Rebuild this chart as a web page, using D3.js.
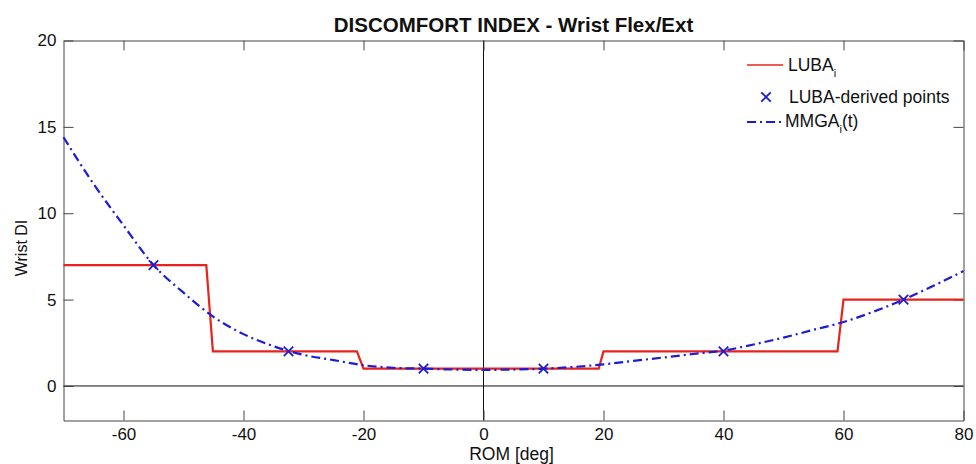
<!DOCTYPE html>
<html>
<head>
<meta charset="utf-8">
<script src="https://cdn.jsdelivr.net/npm/d3@7"></script>
<style>
  body { margin: 0; background: #fff; }
  text { font-family: "Liberation Sans", Arial, sans-serif; fill: #111; }
</style>
</head>
<body>
<svg width="976" height="464"></svg>
<script>
// ticks
const xTickValues = [-60, -40, -20, 0, 20, 40, 60, 80];
const yTickValues = [0, 5, 10, 15, 20];

// LUBA step function
const lubaX = [-70, -46.2, -45.1, -21.1, -20, 19.2, 20, 59, 60, 80];
const lubaY = [7, 7, 2, 2, 1, 1, 2, 2, 5, 5];

// LUBA-derived points
const pointX = [-55, -32.5, -10, 10, 40, 70];
const pointY = [7, 2, 1, 1, 2, 5];

// MMGA fitted curve
const mmgaX = [-70, -65, -60, -55, -50, -45, -40, -35, -30, -25, -20, -15, -10, -5, 0, 5, 10, 15, 20, 25, 30, 35, 40, 45, 50, 55, 60, 65, 70, 75, 80];
const mmgaY = [14.4, 11.7, 9.3, 7.0, 5.4, 4.0, 3.0, 2.3, 1.8, 1.5, 1.2, 1.05, 1.0, 0.95, 0.93, 0.95, 1.0, 1.1, 1.25, 1.45, 1.65, 1.85, 2.05, 2.4, 2.8, 3.25, 3.7, 4.3, 5.0, 5.8, 6.65];

const svg = d3.select("svg");
const x = d3.scaleLinear().domain([-70, 80]).range([63.5, 963.5]);
const y = d3.scaleLinear().domain([-2, 20]).range([420.5, 40.5]);

const axisColor = "#444";
const fmt = d => String(d); // plain hyphen minus like the original

// zero lines
svg.append("line")
  .attr("x1", x(-70)).attr("x2", x(80))
  .attr("y1", y(0)).attr("y2", y(0))
  .attr("stroke", "#111").attr("stroke-width", 1);
svg.append("line")
  .attr("x1", x(0)).attr("x2", x(0))
  .attr("y1", y(-2)).attr("y2", y(20))
  .attr("stroke", "#111").attr("stroke-width", 1);

// axes, ticks inward on all four sides
function styleAxis(g) {
  g.select(".domain").attr("stroke", axisColor);
  g.selectAll(".tick line").attr("stroke", axisColor);
  g.selectAll(".tick text").attr("fill", "#111").style("font-size", "17px")
    .style("font-family", '"Liberation Sans", Arial, sans-serif');
}
svg.append("g")
  .attr("transform", `translate(0,${y(-2)})`)
  .call(d3.axisBottom(x).tickValues(xTickValues).tickFormat(fmt).tickSizeInner(-10).tickSizeOuter(0).tickPadding(7))
  .call(styleAxis);
svg.append("g")
  .attr("transform", `translate(0,${y(20)})`)
  .call(d3.axisTop(x).tickValues(xTickValues).tickSizeInner(-10).tickSizeOuter(0).tickFormat(""))
  .call(styleAxis);
svg.append("g")
  .attr("transform", `translate(${x(-70)},0)`)
  .call(d3.axisLeft(y).tickValues(yTickValues).tickFormat(fmt).tickSizeInner(-10).tickSizeOuter(0).tickPadding(7))
  .call(styleAxis);
svg.append("g")
  .attr("transform", `translate(${x(80)},0)`)
  .call(d3.axisRight(y).tickValues(yTickValues).tickSizeInner(-10).tickSizeOuter(0).tickFormat(""))
  .call(styleAxis);

// LUBA line
const lubaData = lubaX.map((d, i) => [d, lubaY[i]]);
svg.append("path")
  .datum(lubaData)
  .attr("fill", "none")
  .attr("stroke", "#e8231c")
  .attr("stroke-width", 2.2)
  .attr("d", d3.line().x(d => x(d[0])).y(d => y(d[1])));

// MMGA curve
const mmgaData = mmgaX.map((d, i) => [d, mmgaY[i]]);
svg.append("path")
  .datum(mmgaData)
  .attr("fill", "none")
  .attr("stroke", "#1c1cd6")
  .attr("stroke-width", 2.2)
  .attr("stroke-dasharray", "9,4,2,4")
  .attr("d", d3.line().curve(d3.curveMonotoneX).x(d => x(d[0])).y(d => y(d[1])));

// x markers
const cross = d3.symbol().type(d3.symbolX).size(60);
svg.append("g").selectAll("path")
  .data(pointX.map((d, i) => [d, pointY[i]]))
  .join("path")
  .attr("transform", d => `translate(${x(d[0])},${y(d[1])})`)
  .attr("d", cross)
  .attr("fill", "none")
  .attr("stroke", "#1c1cd6")
  .attr("stroke-width", 1.8);

// title and labels
svg.append("text")
  .attr("x", (x(-70) + x(80)) / 2).attr("y", 32)
  .attr("text-anchor", "middle")
  .style("font-size", "20.5px").style("font-weight", "bold")
  .text("DISCOMFORT INDEX - Wrist Flex/Ext");
svg.append("text")
  .attr("x", (x(-70) + x(80)) / 2 - 2).attr("y", 460)
  .attr("text-anchor", "middle")
  .style("font-size", "17.5px")
  .text("ROM [deg]");
svg.append("text")
  .attr("transform", `translate(27,248) rotate(-90)`)
  .attr("text-anchor", "middle")
  .style("font-size", "16px")
  .text("Wrist DI");

// legend
const legend = svg.append("g").style("font-size", "17.5px");
legend.append("line")
  .attr("x1", 747).attr("x2", 783).attr("y1", 65).attr("y2", 65)
  .attr("stroke", "#e8231c").attr("stroke-width", 1.5);
const t1 = legend.append("text").attr("x", 788).attr("y", 71);
t1.append("tspan").text("LUBA");
t1.append("tspan").attr("dy", 6).style("font-size", "11px").text("i");

legend.append("path")
  .attr("transform", "translate(766,97)")
  .attr("d", cross)
  .attr("fill", "none").attr("stroke", "#1c1cd6").attr("stroke-width", 1.8);
legend.append("text").attr("x", 789).attr("y", 103).text("LUBA-derived points");

legend.append("line")
  .attr("x1", 747).attr("x2", 783).attr("y1", 122).attr("y2", 122)
  .attr("stroke", "#1c1cd6").attr("stroke-width", 1.8)
  .attr("stroke-dasharray", "9,4,2,4");
const t3 = legend.append("text").attr("x", 785).attr("y", 127);
t3.append("tspan").text("MMGA");
t3.append("tspan").attr("dy", 6).style("font-size", "11px").text("i");
t3.append("tspan").attr("dy", -6).text("(t)");
</script>
</body>
</html>
